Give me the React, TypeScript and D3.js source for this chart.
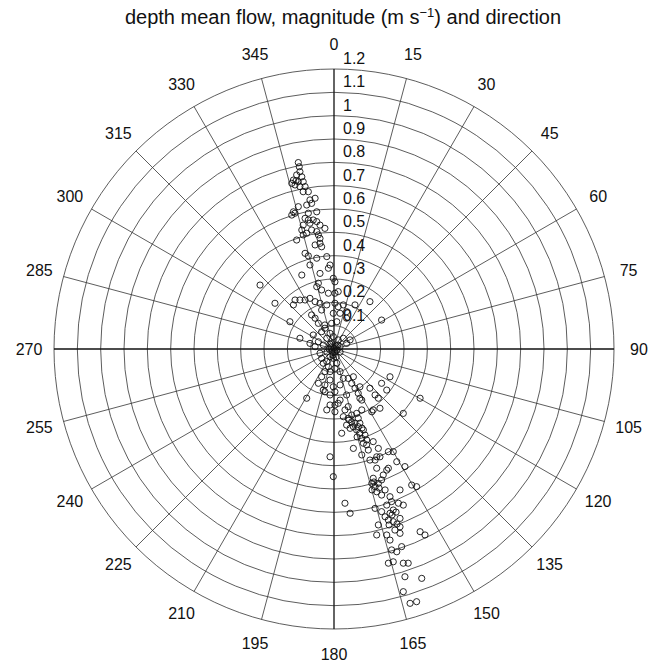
import React from 'react';
import * as d3 from 'd3';

// rings (m/s) and their labels
const ringValues = [0.1, 0.2, 0.3, 0.4, 0.5, 0.6, 0.7, 0.8, 0.9, 1.0, 1.1, 1.2];
const ringLabels = ['0.1', '0.2', '0.3', '0.4', '0.5', '0.6', '0.7', '0.8', '0.9', '1', '1.1', '1.2'];
// compass directions (deg, clockwise from north)
const directionTicks = [0, 15, 30, 45, 60, 75, 90, 105, 120, 135, 150, 165, 180, 195, 210, 225, 240, 255, 270, 285, 300, 315, 330, 345];

// depth mean flow as [east, north] components, m/s
const floodFlow: [number, number][] = [
  [-0.153, 0.799], [-0.149, 0.781], [-0.146, 0.760], [-0.160, 0.746], [-0.138, 0.738], [-0.174, 0.724], [-0.163, 0.721], [-0.153, 0.717], [-0.181, 0.710], [-0.132, 0.717],
  [-0.167, 0.703], [-0.146, 0.696], [-0.124, 0.696], [-0.132, 0.674], [-0.110, 0.674], [-0.081, 0.646], [-0.103, 0.639], [-0.096, 0.624], [-0.117, 0.617], [-0.153, 0.610],
  [-0.174, 0.588], [-0.181, 0.574], [-0.167, 0.582], [-0.110, 0.582], [-0.074, 0.588], [-0.124, 0.560], [-0.110, 0.553], [-0.089, 0.553], [-0.074, 0.546], [-0.132, 0.531],
  [-0.103, 0.539], [-0.060, 0.531], [-0.039, 0.517], [-0.138, 0.510], [-0.132, 0.489], [-0.117, 0.496], [-0.096, 0.510], [-0.074, 0.503], [-0.067, 0.489], [-0.060, 0.474],
  [-0.160, 0.467], [-0.060, 0.453], [-0.053, 0.438], [-0.081, 0.446], [-0.124, 0.410], [-0.110, 0.399], [-0.074, 0.389], [-0.031, 0.396], [-0.103, 0.360], [-0.017, 0.360],
  [-0.024, 0.346], [-0.138, 0.317], [-0.060, 0.324], [-0.003, 0.303], [0.004, 0.288], [-0.067, 0.282], [-0.074, 0.267], [-0.053, 0.253], [-0.317, 0.274], [0.004, 0.239],
  [0.018, 0.246], [-0.024, 0.239], [-0.253, 0.196], [-0.167, 0.210], [-0.146, 0.210], [-0.124, 0.210], [-0.103, 0.217], [-0.081, 0.203], [-0.060, 0.196], [-0.031, 0.189],
  [0.004, 0.196], [0.018, 0.181], [-0.053, 0.167], [-0.003, 0.153], [0.026, 0.153], [0.054, 0.160], [0.054, 0.132], [-0.096, 0.146], [-0.081, 0.132], [-0.189, 0.117],
  [-0.067, 0.110], [-0.039, 0.103], [-0.010, 0.110], [-0.089, 0.060], [-0.053, 0.074], [-0.017, 0.067], [-0.003, 0.053], [0.018, 0.039], [-0.103, 0.024], [-0.081, 0.010],
  [-0.046, 0.017], [-0.010, 0.024], [0.026, 0.010], [0.054, 0.024], [0.069, 0.039], [0.154, 0.203], [0.204, 0.124], [-0.174, 0.189], [0.040, 0.189], [0.090, 0.189],
  [-0.039, 0.089], [0.012, 0.117], [-0.031, 0.046], [0.040, 0.046], [-0.146, 0.046], [-0.067, 0.031],
];

const slackFlow: [number, number][] = [
  [0.000, 0.004], [-0.013, 0.009], [0.009, 0.013], [-0.009, -0.009], [0.013, -0.004], [-0.021, 0.000], [0.004, -0.013], [0.017, 0.017], [-0.017, 0.021], [-0.004, -0.026],
  [-0.030, -0.013], [0.026, -0.013], [0.009, -0.034], [-0.060, -0.018], [-0.053, -0.040], [-0.046, -0.061], [-0.031, -0.054], [-0.017, -0.033], [-0.003, -0.040], [-0.024, -0.076],
  [-0.039, -0.097], [-0.017, -0.097], [0.004, -0.083], [0.012, -0.061], [0.026, -0.097], [-0.053, -0.119], [-0.017, -0.133], [-0.039, -0.154], [-0.067, -0.147], [-0.003, -0.162],
  [0.026, -0.154], [0.040, -0.126], [0.061, -0.126], [0.076, -0.147], [0.083, -0.119], [0.111, -0.162], [0.104, -0.190], [0.004, -0.183], [-0.046, -0.176], [0.226, -0.176],
  [0.204, -0.147], [0.154, -0.168], [0.176, -0.197], [0.240, -0.119],
];

const ebbFlow: [number, number][] = [
  [-0.117, -0.211], [-0.031, -0.261], [0.004, -0.240], [0.026, -0.219], [0.061, -0.247], [0.111, -0.211], [0.076, -0.283], [0.119, -0.261], [0.197, -0.254], [0.190, -0.211],
  [-0.039, -0.183], [-0.017, -0.197], [0.054, -0.197], [0.090, -0.168], [0.369, -0.211], [-0.017, -0.240], [0.004, -0.269], [0.018, -0.233], [0.047, -0.261], [0.168, -0.261],
  [0.297, -0.276], [0.040, -0.290], [0.061, -0.297], [0.076, -0.312], [0.083, -0.333], [0.097, -0.347], [0.111, -0.361], [0.119, -0.383], [0.126, -0.404], [0.090, -0.318],
  [0.104, -0.333], [0.069, -0.340], [0.054, -0.326], [0.126, -0.347], [0.133, -0.369], [0.140, -0.390], [0.111, -0.318], [0.097, -0.276], [0.104, -0.297], [0.033, -0.361],
  [0.168, -0.397], [0.083, -0.426], [0.119, -0.454], [0.147, -0.433], [0.190, -0.426], [0.233, -0.440], [0.254, -0.440], [0.197, -0.462], [0.154, -0.476], [0.176, -0.476],
  [-0.017, -0.462], [0.269, -0.483], [0.304, -0.504], [-0.003, -0.547], [0.183, -0.511], [0.233, -0.511], [0.211, -0.540], [0.168, -0.554], [0.162, -0.576], [0.176, -0.590],
  [0.190, -0.576], [0.183, -0.612], [0.204, -0.626], [0.219, -0.604], [0.204, -0.561], [0.240, -0.633], [0.283, -0.604], [0.333, -0.583], [0.354, -0.590], [0.047, -0.661],
  [0.069, -0.704], [0.176, -0.683], [0.204, -0.697], [0.226, -0.669], [0.247, -0.654], [0.276, -0.661], [0.297, -0.669], [0.219, -0.719], [0.240, -0.704], [0.254, -0.690],
  [0.233, -0.733], [0.254, -0.740], [0.283, -0.726], [0.283, -0.762], [0.190, -0.754], [0.183, -0.797], [0.226, -0.797], [0.240, -0.819], [0.261, -0.776], [0.283, -0.790],
  [0.369, -0.783], [0.390, -0.797], [0.247, -0.861], [0.269, -0.869], [0.290, -0.847], [0.233, -0.918], [0.254, -0.912], [0.297, -0.918], [0.318, -0.918], [0.304, -0.976],
  [0.376, -0.983], [0.297, -1.040], [0.326, -1.090], [0.354, -1.083], [0.249, -0.711], [0.266, -0.699], [0.236, -0.754], [0.270, -0.750], [0.119, -0.219], [0.162, -0.269],
  [0.140, -0.411], [0.183, -0.462], [0.226, -0.519], [0.171, -0.570], [0.193, -0.596], [0.163, -0.604], [0.064, -0.304], [0.120, -0.339], [0.099, -0.377],
];

const width = 655;
const height = 663;
const cx = 334;
const cy = 349;
const outerR = 280;
const labelR = 305;
const font = '"Liberation Sans", Arial, Helvetica, sans-serif';

const App = () => {
  const rScale = d3.scaleLinear().domain([0, 1.2]).range([0, outerR]);
  const toRad = (deg: number) => (deg * Math.PI) / 180;

  // polar position of a flow vector: magnitude + direction toward
  const place = ([u, v]: [number, number]) => {
    const mag = Math.hypot(u, v);
    const dir = Math.atan2(u, v);
    return d3.pointRadial(dir, rScale(mag));
  };

  const allFlow = [...floodFlow, ...slackFlow, ...ebbFlow];

  return (
    <svg width={width} height={height} style={{ position: 'absolute', left: 0, top: 0, background: '#fff' }} fontFamily={font}>
      <text x={343} y={24} textAnchor="middle" fontSize={20} fill="#111">
        depth mean flow, magnitude (m s
        <tspan dy={-7} fontSize={13}>−1</tspan>
        <tspan dy={7}>) and direction</tspan>
      </text>

      <g transform={`translate(${cx},${cy})`}>
        {/* rings */}
        {ringValues.map((v) => (
          <circle key={v} r={rScale(v)} fill="none" stroke="#333" strokeWidth={0.8} />
        ))}
        {/* spokes */}
        {directionTicks.map((d) => {
          const [x, y] = d3.pointRadial(toRad(d), outerR);
          const main = d % 90 === 0;
          return (
            <line key={d} x1={0} y1={0} x2={x} y2={y} stroke={main ? '#111' : '#333'} strokeWidth={main ? 1.3 : 0.8} />
          );
        })}
        {/* ring labels */}
        {ringValues.map((v, i) => (
          <text key={'rl' + v} x={9} y={-rScale(v) - 5} fontSize={16} fill="#111">
            {ringLabels[i]}
          </text>
        ))}
        {/* direction labels */}
        {directionTicks.map((d) => {
          const [x, y] = d3.pointRadial(toRad(d), labelR);
          return (
            <text key={'dl' + d} x={x} y={y} textAnchor="middle" dominantBaseline="central" fontSize={16} fill="#111">
              {d}
            </text>
          );
        })}
        {/* observations */}
        {allFlow.map((p, i) => {
          const [x, y] = place(p);
          return <circle key={'p' + i} cx={x} cy={y} r={3.1} fill="none" stroke="#111" strokeWidth={0.9} />;
        })}
      </g>
    </svg>
  );
};

export default App;
